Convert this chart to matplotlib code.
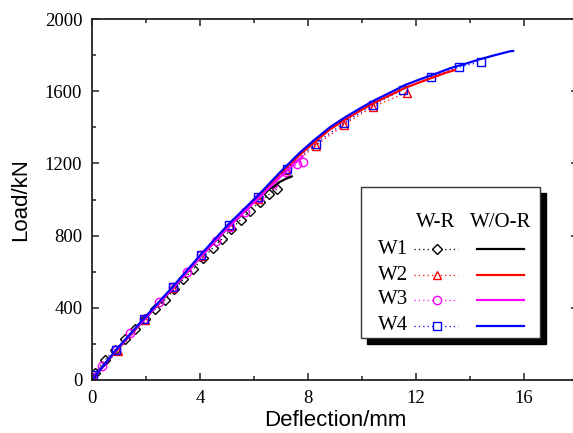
import matplotlib
matplotlib.use("Agg")
import matplotlib.pyplot as plt
from matplotlib.lines import Line2D
from matplotlib.patches import Rectangle
from matplotlib.ticker import MultipleLocator

# Tested (W-R) series
w1_x = [0.11, 0.48, 0.85, 1.22, 1.59, 1.96, 2.33, 2.70, 3.05, 3.38, 3.75, 4.10,
        4.47, 4.80, 5.15, 5.50, 5.85, 6.22, 6.57, 6.84]
w1_y = [37, 111, 168, 225, 280, 338, 393, 443, 503, 557, 615, 674,
        730, 779, 835, 886, 938, 988, 1030, 1056]
w2_x = [0.05, 0.95, 1.95, 3.0, 4.05, 5.1, 6.15, 7.2, 8.28, 9.33, 10.4, 11.65]
w2_y = [18, 160, 332, 508, 686, 852, 1005, 1162, 1298, 1414, 1514, 1592]
w3_x = [0.0, 0.37, 0.9, 1.4, 1.93, 2.48, 3.0, 3.52, 4.04, 4.6, 5.1, 5.65,
        6.2, 6.7, 7.2, 7.6, 7.8]
w3_y = [18, 78, 166, 258, 338, 430, 515, 598, 690, 772, 850, 932,
        1010, 1088, 1152, 1195, 1208]
w4_x = [0.04, 0.9, 1.93, 3.0, 4.04, 5.07, 6.15, 7.22, 8.28, 9.33, 10.4, 11.5,
        12.55, 13.6, 14.4]
w4_y = [28, 166, 338, 515, 693, 859, 1014, 1169, 1310, 1424, 1524, 1607,
        1679, 1734, 1762]

# Model (W/O-R) curves
m1_x = [0, 0.9, 1.93, 3.0, 4.04, 5.07, 6.0, 6.4, 6.72, 6.96, 7.2, 7.4]
m1_y = [0, 163, 334, 508, 685, 850, 1000, 1045, 1071, 1098, 1116, 1128]
m2_x = [0, 0.9, 1.93, 3.0, 4.04, 5.07, 6.15, 6.96, 7.7, 8.26, 8.81, 9.37,
        9.93, 10.48, 11.04, 11.59, 12.15, 12.7, 13.1, 13.44]
m2_y = [0, 165, 338, 512, 690, 858, 1014, 1142, 1248, 1320, 1388, 1442,
        1492, 1538, 1578, 1618, 1650, 1680, 1702, 1717]
m3_x = [0, 0.9, 1.93, 3.0, 4.04, 5.07, 6.15, 7.22, 7.8]
m3_y = [0, 165, 335, 510, 685, 850, 1005, 1160, 1240]
m4_x = [0, 0.9, 1.93, 3.0, 4.04, 5.07, 6.15, 6.96, 7.7, 8.26, 8.81, 9.37,
        9.93, 10.48, 11.04, 11.59, 12.15, 12.7, 13.26, 13.81, 14.37, 14.93,
        15.48, 15.6]
m4_y = [0, 168, 342, 518, 697, 865, 1022, 1150, 1260, 1333, 1400, 1455,
        1505, 1551, 1592, 1634, 1666, 1695, 1727, 1751, 1777, 1800,
        1821, 1823]

names = ["W1", "W2", "W3", "W4"]
colors = ["black", "red", "magenta", "blue"]
markers = ["D", "^", "o", "s"]
msizes = [5, 6, 6, 5.5]

serif = "Liberation Serif"
sans = "Liberation Sans"

fig = plt.figure(figsize=(5.73, 4.33), dpi=100)
ax = fig.add_axes([92 / 573, 53 / 433, 486 / 573, 361 / 433])

tests = [(w1_x, w1_y), (w2_x, w2_y), (w3_x, w3_y), (w4_x, w4_y)]
models = [(m1_x, m1_y), (m2_x, m2_y), (m3_x, m3_y), (m4_x, m4_y)]

for (tx, ty), c, m, ms in zip(tests, colors, markers, msizes):
    ax.plot(tx, ty, linestyle=(0, (1, 2.5)), color=c, lw=0.9, marker=m,
            ms=ms, mfc="none", mec=c, mew=1.0)
for (mx, my), c in zip(models, colors):
    ax.plot(mx, my, color=c, lw=1.6)

ax.set_xlim(0, 18)
ax.set_ylim(0, 2000)
ax.xaxis.set_major_locator(MultipleLocator(4))
ax.xaxis.set_minor_locator(MultipleLocator(2))
ax.yaxis.set_major_locator(MultipleLocator(400))
ax.yaxis.set_minor_locator(MultipleLocator(200))
ax.tick_params(which="both", direction="in", top=True, right=True,
               labelsize=13.5, width=1.2, color="#333333")
ax.tick_params(which="major", length=5)
ax.tick_params(axis="x", which="major", pad=7)
ax.tick_params(axis="y", which="major", pad=7)
ax.tick_params(which="minor", length=3)
for lab in ax.get_xticklabels() + ax.get_yticklabels():
    lab.set_fontfamily(serif)
for s in ax.spines.values():
    s.set_linewidth(1.3)
    s.set_color("#222222")

ax.set_xlabel("Deflection/mm", fontfamily=sans, fontsize=16, labelpad=2)
ax.set_ylabel("Load/kN", fontfamily=sans, fontsize=16, labelpad=10)

# hand-made legend in figure pixels
def fx(px):
    return px / 573

def fy(py):
    return 1 - py / 433

fig.patches.append(Rectangle((fx(367), fy(344)), fx(540) - fx(361),
                             fy(187) - fy(338), transform=fig.transFigure,
                             facecolor="black", edgecolor="black", zorder=5))
fig.patches.append(Rectangle((fx(361), fy(338)), fx(540) - fx(361),
                             fy(187) - fy(338), transform=fig.transFigure,
                             facecolor="white", edgecolor="#333333", lw=1.0,
                             zorder=6))
fig.text(fx(436), fy(223), "W-R", fontfamily=serif, fontsize=15,
         ha="center", va="center", zorder=7)
fig.text(fx(501), fy(223), "W/O-R", fontfamily=serif, fontsize=15,
         ha="center", va="center", zorder=7)
rows_y = [249, 275, 300, 326]
for name, c, m, ms, ry in zip(names, colors, markers, msizes, rows_y):
    fig.text(fx(408), fy(ry), name, fontfamily=serif, fontsize=15,
             ha="right", va="center", zorder=7)
    fig.lines.append(Line2D([fx(414), fx(458)], [fy(ry), fy(ry)],
                            transform=fig.transFigure, color=c, lw=0.9,
                            linestyle=(0, (1, 2.5)), zorder=7))
    fig.lines.append(Line2D([fx(437)], [fy(ry)], transform=fig.transFigure,
                            marker=m, ms=ms, mfc="white", mec=c, mew=1.0,
                            linestyle="none", zorder=8))
    fig.lines.append(Line2D([fx(477), fx(524)], [fy(ry), fy(ry)],
                            transform=fig.transFigure, color=c, lw=1.6,
                            zorder=7))

fig.savefig("out.png", dpi=100)
